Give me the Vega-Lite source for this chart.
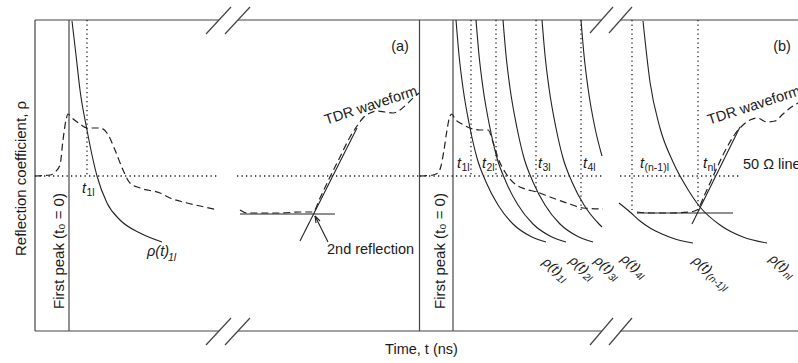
{
  "$schema": "https://vega.github.io/schema/vega-lite/v6.json",
  "width": 763,
  "height": 311,
  "autosize": "none",
  "padding": {"left": 35, "top": 20, "right": 0, "bottom": 32},
  "background": "white",
  "config": {
    "view": {"stroke": null},
    "text": {"font": "Liberation Sans", "color": "#1a1a1a"}
  },
  "datasets": {
    "segs": [
      {"k": "frame", "x": 35, "y": 156, "x2": 219, "y2": 156},
      {"k": "frame", "x": 238, "y": 156, "x2": 601.5, "y2": 156},
      {"k": "frame", "x": 620.5, "y": 156, "x2": 798, "y2": 156},
      {"k": "frame", "x": 35, "y": -155, "x2": 219, "y2": -155},
      {"k": "frame", "x": 238, "y": -155, "x2": 601.5, "y2": -155},
      {"k": "frame", "x": 620.5, "y": -155, "x2": 798, "y2": -155},
      {"k": "frame", "x": 35, "y": 156, "x2": 35, "y2": -155},
      {"k": "frame", "x": 419.5, "y": 156, "x2": 419.5, "y2": -155},
      {"k": "frame", "x": 206, "y": 142, "x2": 231, "y2": 169},
      {"k": "frame", "x": 225, "y": 142, "x2": 250, "y2": 169},
      {"k": "frame", "x": 206, "y": -169, "x2": 231, "y2": -142},
      {"k": "frame", "x": 225, "y": -169, "x2": 250, "y2": -142},
      {"k": "frame", "x": 590, "y": 143, "x2": 613, "y2": 169},
      {"k": "frame", "x": 609, "y": 143, "x2": 632, "y2": 169},
      {"k": "frame", "x": 590, "y": -169, "x2": 613, "y2": -142},
      {"k": "frame", "x": 609, "y": -169, "x2": 632, "y2": -142},
      {"k": "peak", "x": 69, "y": 156, "x2": 69, "y2": -155},
      {"k": "peak", "x": 453, "y": 156, "x2": 453, "y2": -155},
      {"k": "dot", "x": 35, "y": 0, "x2": 218, "y2": 0},
      {"k": "dot", "x": 237, "y": 0, "x2": 419, "y2": 0},
      {"k": "dot", "x": 420, "y": 0, "x2": 604, "y2": 0},
      {"k": "dot", "x": 620, "y": 0, "x2": 740, "y2": 0},
      {"k": "dot", "x": 87, "y": 156, "x2": 87, "y2": 0},
      {"k": "dot", "x": 471, "y": 156, "x2": 471, "y2": 0},
      {"k": "dot", "x": 496, "y": 156, "x2": 496, "y2": 0},
      {"k": "dot", "x": 536, "y": 156, "x2": 536, "y2": -16},
      {"k": "dot", "x": 581, "y": 156, "x2": 581, "y2": -34},
      {"k": "dot", "x": 632, "y": 156, "x2": 632, "y2": -34},
      {"k": "dot", "x": 698, "y": 156, "x2": 698, "y2": -34},
      {"k": "solid", "x": 240, "y": -38, "x2": 335, "y2": -38},
      {"k": "solid", "x": 300, "y": -65, "x2": 357, "y2": 48},
      {"k": "solid", "x": 637, "y": -37, "x2": 733, "y2": -37},
      {"k": "solid", "x": 692, "y": -48, "x2": 740, "y2": 49},
      {"k": "solid", "x": 328, "y": -66, "x2": 315, "y2": -40},
      {"k": "solid", "x": 315, "y": -40, "x2": 316, "y2": -47},
      {"k": "solid", "x": 315, "y": -40, "x2": 320, "y2": -45}
    ],
    "curves": [
      {"id": "a", "i": 0, "x": 72, "y": 155}, {"id": "a", "i": 1, "x": 76, "y": 121}, {"id": "a", "i": 2, "x": 80, "y": 86}, {"id": "a", "i": 3, "x": 87, "y": 46}, {"id": "a", "i": 4, "x": 92, "y": 21}, {"id": "a", "i": 5, "x": 97, "y": 0}, {"id": "a", "i": 6, "x": 107, "y": -27}, {"id": "a", "i": 7, "x": 120, "y": -44}, {"id": "a", "i": 8, "x": 140, "y": -57}, {"id": "a", "i": 9, "x": 162, "y": -66},
      {"id": "b1", "i": 0, "x": 456, "y": 156}, {"id": "b1", "i": 1, "x": 459, "y": 121}, {"id": "b1", "i": 2, "x": 463, "y": 88}, {"id": "b1", "i": 3, "x": 470, "y": 48}, {"id": "b1", "i": 4, "x": 477, "y": 18}, {"id": "b1", "i": 5, "x": 486, "y": -6}, {"id": "b1", "i": 6, "x": 498, "y": -29}, {"id": "b1", "i": 7, "x": 513, "y": -48}, {"id": "b1", "i": 8, "x": 530, "y": -60}, {"id": "b1", "i": 9, "x": 546, "y": -66},
      {"id": "b2", "i": 0, "x": 476, "y": 156}, {"id": "b2", "i": 1, "x": 479, "y": 121}, {"id": "b2", "i": 2, "x": 483, "y": 88}, {"id": "b2", "i": 3, "x": 490, "y": 48}, {"id": "b2", "i": 4, "x": 497, "y": 18}, {"id": "b2", "i": 5, "x": 506, "y": -6}, {"id": "b2", "i": 6, "x": 518, "y": -29}, {"id": "b2", "i": 7, "x": 533, "y": -48}, {"id": "b2", "i": 8, "x": 550, "y": -60}, {"id": "b2", "i": 9, "x": 566, "y": -66},
      {"id": "b3", "i": 0, "x": 503, "y": 156}, {"id": "b3", "i": 1, "x": 506, "y": 121}, {"id": "b3", "i": 2, "x": 510, "y": 88}, {"id": "b3", "i": 3, "x": 517, "y": 48}, {"id": "b3", "i": 4, "x": 524, "y": 18}, {"id": "b3", "i": 5, "x": 533, "y": -6}, {"id": "b3", "i": 6, "x": 545, "y": -29}, {"id": "b3", "i": 7, "x": 560, "y": -48}, {"id": "b3", "i": 8, "x": 577, "y": -60}, {"id": "b3", "i": 9, "x": 593, "y": -66},
      {"id": "b4", "i": 0, "x": 542, "y": 156}, {"id": "b4", "i": 1, "x": 545, "y": 121}, {"id": "b4", "i": 2, "x": 549, "y": 88}, {"id": "b4", "i": 3, "x": 556, "y": 48}, {"id": "b4", "i": 4, "x": 563, "y": 18}, {"id": "b4", "i": 5, "x": 572, "y": -6}, {"id": "b4", "i": 6, "x": 584, "y": -29}, {"id": "b4", "i": 7, "x": 599, "y": -48}, {"id": "b4", "i": 8, "x": 602, "y": -51},
      {"id": "b5", "i": 0, "x": 581, "y": 156}, {"id": "b5", "i": 1, "x": 584, "y": 121}, {"id": "b5", "i": 2, "x": 588, "y": 88}, {"id": "b5", "i": 3, "x": 595, "y": 48}, {"id": "b5", "i": 4, "x": 602, "y": 20},
      {"id": "b6", "i": 0, "x": 619, "y": -27}, {"id": "b6", "i": 1, "x": 630, "y": -36}, {"id": "b6", "i": 2, "x": 640, "y": -45}, {"id": "b6", "i": 3, "x": 650, "y": -52}, {"id": "b6", "i": 4, "x": 662, "y": -58}, {"id": "b6", "i": 5, "x": 675, "y": -63}, {"id": "b6", "i": 6, "x": 693, "y": -67},
      {"id": "b7", "i": 0, "x": 643, "y": 155}, {"id": "b7", "i": 1, "x": 650, "y": 94}, {"id": "b7", "i": 2, "x": 660, "y": 48}, {"id": "b7", "i": 3, "x": 673, "y": 14}, {"id": "b7", "i": 4, "x": 687, "y": -12}, {"id": "b7", "i": 5, "x": 700, "y": -31}, {"id": "b7", "i": 6, "x": 720, "y": -49}, {"id": "b7", "i": 7, "x": 743, "y": -61}, {"id": "b7", "i": 8, "x": 767, "y": -67}
    ],
    "tdr": [
      {"id": "a1", "i": 0, "x": 35, "y": 0}, {"id": "a1", "i": 1, "x": 50, "y": 1}, {"id": "a1", "i": 2, "x": 55, "y": 4}, {"id": "a1", "i": 3, "x": 60, "y": 11}, {"id": "a1", "i": 4, "x": 63, "y": 36}, {"id": "a1", "i": 5, "x": 66, "y": 56}, {"id": "a1", "i": 6, "x": 68, "y": 62}, {"id": "a1", "i": 7, "x": 72, "y": 58}, {"id": "a1", "i": 8, "x": 80, "y": 52}, {"id": "a1", "i": 9, "x": 87, "y": 48}, {"id": "a1", "i": 10, "x": 100, "y": 48}, {"id": "a1", "i": 11, "x": 107, "y": 43}, {"id": "a1", "i": 12, "x": 115, "y": 26}, {"id": "a1", "i": 13, "x": 123, "y": 6}, {"id": "a1", "i": 14, "x": 130, "y": -7}, {"id": "a1", "i": 15, "x": 140, "y": -12}, {"id": "a1", "i": 16, "x": 160, "y": -17}, {"id": "a1", "i": 17, "x": 170, "y": -22}, {"id": "a1", "i": 18, "x": 187, "y": -27}, {"id": "a1", "i": 19, "x": 200, "y": -30}, {"id": "a1", "i": 20, "x": 218, "y": -34},
      {"id": "a2", "i": 0, "x": 240, "y": -34}, {"id": "a2", "i": 1, "x": 247, "y": -37}, {"id": "a2", "i": 2, "x": 260, "y": -37}, {"id": "a2", "i": 3, "x": 280, "y": -37}, {"id": "a2", "i": 4, "x": 300, "y": -36}, {"id": "a2", "i": 5, "x": 313, "y": -36}, {"id": "a2", "i": 6, "x": 320, "y": -22}, {"id": "a2", "i": 7, "x": 330, "y": -1}, {"id": "a2", "i": 8, "x": 340, "y": 19}, {"id": "a2", "i": 9, "x": 350, "y": 39}, {"id": "a2", "i": 10, "x": 357, "y": 50}, {"id": "a2", "i": 11, "x": 363, "y": 58}, {"id": "a2", "i": 12, "x": 370, "y": 63}, {"id": "a2", "i": 13, "x": 377, "y": 65}, {"id": "a2", "i": 14, "x": 385, "y": 64}, {"id": "a2", "i": 15, "x": 393, "y": 63}, {"id": "a2", "i": 16, "x": 400, "y": 66}, {"id": "a2", "i": 17, "x": 407, "y": 72}, {"id": "a2", "i": 18, "x": 413, "y": 78}, {"id": "a2", "i": 19, "x": 419, "y": 83},
      {"id": "b1", "i": 0, "x": 420, "y": 0}, {"id": "b1", "i": 1, "x": 433, "y": 1}, {"id": "b1", "i": 2, "x": 438, "y": 3}, {"id": "b1", "i": 3, "x": 441, "y": 10}, {"id": "b1", "i": 4, "x": 444, "y": 26}, {"id": "b1", "i": 5, "x": 447, "y": 46}, {"id": "b1", "i": 6, "x": 450, "y": 60}, {"id": "b1", "i": 7, "x": 452, "y": 62}, {"id": "b1", "i": 8, "x": 455, "y": 57}, {"id": "b1", "i": 9, "x": 462, "y": 52}, {"id": "b1", "i": 10, "x": 470, "y": 48}, {"id": "b1", "i": 11, "x": 480, "y": 46}, {"id": "b1", "i": 12, "x": 488, "y": 46}, {"id": "b1", "i": 13, "x": 493, "y": 34}, {"id": "b1", "i": 14, "x": 498, "y": 18}, {"id": "b1", "i": 15, "x": 505, "y": 4}, {"id": "b1", "i": 16, "x": 515, "y": -8}, {"id": "b1", "i": 17, "x": 525, "y": -13}, {"id": "b1", "i": 18, "x": 537, "y": -16}, {"id": "b1", "i": 19, "x": 550, "y": -21}, {"id": "b1", "i": 20, "x": 567, "y": -27}, {"id": "b1", "i": 21, "x": 583, "y": -32}, {"id": "b1", "i": 22, "x": 603, "y": -33},
      {"id": "b2", "i": 0, "x": 637, "y": -36}, {"id": "b2", "i": 1, "x": 650, "y": -37}, {"id": "b2", "i": 2, "x": 670, "y": -37}, {"id": "b2", "i": 3, "x": 690, "y": -36}, {"id": "b2", "i": 4, "x": 697, "y": -34}, {"id": "b2", "i": 5, "x": 705, "y": -18}, {"id": "b2", "i": 6, "x": 715, "y": 4}, {"id": "b2", "i": 7, "x": 725, "y": 25}, {"id": "b2", "i": 8, "x": 735, "y": 42}, {"id": "b2", "i": 9, "x": 742, "y": 50}, {"id": "b2", "i": 10, "x": 750, "y": 56}, {"id": "b2", "i": 11, "x": 757, "y": 58}, {"id": "b2", "i": 12, "x": 767, "y": 54}, {"id": "b2", "i": 13, "x": 775, "y": 55}, {"id": "b2", "i": 14, "x": 783, "y": 62}, {"id": "b2", "i": 15, "x": 790, "y": 68}, {"id": "b2", "i": 16, "x": 798, "y": 73}
    ],
    "txt": [
      {"k": "plain", "s": "(a)", "x": 400, "y": 129},
      {"k": "plain", "s": "(b)", "x": 782, "y": 129},
      {"k": "left", "s": "2nd reflection", "x": 327, "y": -74},
      {"k": "left", "s": "50 Ω line", "x": 743, "y": 11},
      {"k": "tdr", "s": "TDR waveform", "x": 371, "y": 70},
      {"k": "tdr", "s": "TDR waveform", "x": 754, "y": 70},
      {"k": "peak", "s": "First peak (t₀ = 0)", "x": 59, "y": -75},
      {"k": "peak", "s": "First peak (t₀ = 0)", "x": 440, "y": -75},
      {"k": "tmain", "s": "t", "x": 82, "y": -17},
      {"k": "tmain", "s": "t", "x": 457, "y": 8},
      {"k": "tmain", "s": "t", "x": 482, "y": 8},
      {"k": "tmain", "s": "t", "x": 538, "y": 8},
      {"k": "tmain", "s": "t", "x": 583, "y": 8},
      {"k": "tmain", "s": "t", "x": 640, "y": 8},
      {"k": "tmain", "s": "t", "x": 703, "y": 8},
      {"k": "tsub", "s": "1l", "x": 86.5, "y": -20},
      {"k": "tsub", "s": "1l", "x": 461.5, "y": 5},
      {"k": "tsub", "s": "2l", "x": 486.5, "y": 5},
      {"k": "tsub", "s": "3l", "x": 542.5, "y": 5},
      {"k": "tsub", "s": "4l", "x": 587.5, "y": 5},
      {"k": "tsub", "s": "(n-1)l", "x": 644.5, "y": 5},
      {"k": "tsub", "s": "nl", "x": 707.5, "y": 5},
      {"k": "rmain", "s": "ρ(t)", "x": 147, "y": -80},
      {"k": "rsub", "s": "1l", "x": 168, "y": -85},
      {"k": "rrot", "s": "ρ(t)", "x": 544.3, "y": -84.3},
      {"k": "rrot", "s": "ρ(t)", "x": 571, "y": -82.7},
      {"k": "rrot", "s": "ρ(t)", "x": 596, "y": -82.7},
      {"k": "rrot", "s": "ρ(t)", "x": 622.7, "y": -81},
      {"k": "rrot", "s": "ρ(t)", "x": 694.3, "y": -82.7},
      {"k": "rrot", "s": "ρ(t)", "x": 771, "y": -81},
      {"k": "rrotsub", "s": "1l", "x": 557.8, "y": -100.8},
      {"k": "rrotsub", "s": "2l", "x": 584.5, "y": -99.2},
      {"k": "rrotsub", "s": "3l", "x": 609.5, "y": -99.2},
      {"k": "rrotsub", "s": "4l", "x": 636.2, "y": -97.5},
      {"k": "rrotsub", "s": "(n-1)l", "x": 707.8, "y": -99.2},
      {"k": "rrotsub", "s": "nl", "x": 784.5, "y": -97.5}
    ]
  },
  "encoding": {
    "x": {
      "field": "x", "type": "quantitative",
      "scale": {"domain": [35, 798], "nice": false, "zero": false},
      "axis": {"title": "Time, t (ns)", "labels": false, "ticks": false, "domain": false, "grid": false, "titleFont": "Liberation Sans", "titleFontWeight": "normal", "titleColor": "#1a1a1a", "titleFontSize": 14.5, "titlePadding": 11, "titleX": 386}
    },
    "y": {
      "field": "y", "type": "quantitative",
      "scale": {"domain": [-155, 156], "nice": false, "zero": false},
      "axis": {"title": "Reflection coefficient, ρ", "labels": false, "ticks": false, "domain": false, "grid": false, "titleFont": "Liberation Sans", "titleFontWeight": "normal", "titleColor": "#1a1a1a", "titleFontSize": 15, "titlePadding": 7, "titleY": 158}
    }
  },
  "layer": [
    {
      "data": {"name": "segs"},
      "transform": [{"filter": "datum.k === 'frame'"}],
      "mark": {"type": "rule", "color": "#444", "strokeWidth": 1.2},
      "encoding": {"x2": {"field": "x2"}, "y2": {"field": "y2"}}
    },
    {
      "data": {"name": "segs"},
      "transform": [{"filter": "datum.k === 'peak'"}],
      "mark": {"type": "rule", "color": "#555", "strokeWidth": 1.3},
      "encoding": {"x2": {"field": "x2"}, "y2": {"field": "y2"}}
    },
    {
      "data": {"name": "segs"},
      "transform": [{"filter": "datum.k === 'dot'"}],
      "mark": {"type": "rule", "color": "#222", "strokeWidth": 1.3, "strokeDash": [1.3, 3.2]},
      "encoding": {"x2": {"field": "x2"}, "y2": {"field": "y2"}}
    },
    {
      "data": {"name": "segs"},
      "transform": [{"filter": "datum.k === 'solid'"}],
      "mark": {"type": "rule", "color": "#222", "strokeWidth": 1.1},
      "encoding": {"x2": {"field": "x2"}, "y2": {"field": "y2"}}
    },
    {
      "data": {"name": "curves"},
      "mark": {"type": "line", "color": "#222", "strokeWidth": 1.1, "interpolate": "monotone"},
      "encoding": {"detail": {"field": "id"}, "order": {"field": "i"}}
    },
    {
      "data": {"name": "tdr"},
      "mark": {"type": "line", "color": "#222", "strokeWidth": 1.2, "strokeDash": [7, 4], "interpolate": "monotone"},
      "encoding": {"detail": {"field": "id"}, "order": {"field": "i"}}
    },
    {
      "data": {"name": "txt"},
      "transform": [{"filter": "datum.k === 'plain'"}],
      "mark": {"type": "text", "fontSize": 14.5, "align": "center", "baseline": "middle"},
      "encoding": {"text": {"field": "s"}}
    },
    {
      "data": {"name": "txt"},
      "transform": [{"filter": "datum.k === 'left'"}],
      "mark": {"type": "text", "fontSize": 14.5, "align": "left", "baseline": "middle"},
      "encoding": {"text": {"field": "s"}}
    },
    {
      "data": {"name": "txt"},
      "transform": [{"filter": "datum.k === 'tdr'"}],
      "mark": {"type": "text", "fontSize": 14.5, "align": "center", "baseline": "middle", "angle": -18},
      "encoding": {"text": {"field": "s"}}
    },
    {
      "data": {"name": "txt"},
      "transform": [{"filter": "datum.k === 'peak'"}],
      "mark": {"type": "text", "fontSize": 15, "align": "center", "baseline": "middle", "angle": -90},
      "encoding": {"text": {"field": "s"}}
    },
    {
      "data": {"name": "txt"},
      "transform": [{"filter": "datum.k === 'tmain'"}],
      "mark": {"type": "text", "fontSize": 14.5, "fontStyle": "italic", "align": "left", "baseline": "alphabetic"},
      "encoding": {"text": {"field": "s"}}
    },
    {
      "data": {"name": "txt"},
      "transform": [{"filter": "datum.k === 'tsub'"}],
      "mark": {"type": "text", "fontSize": 10.5, "align": "left", "baseline": "alphabetic"},
      "encoding": {"text": {"field": "s"}}
    },
    {
      "data": {"name": "txt"},
      "transform": [{"filter": "datum.k === 'rmain'"}],
      "mark": {"type": "text", "fontSize": 14.5, "fontStyle": "italic", "align": "left", "baseline": "alphabetic"},
      "encoding": {"text": {"field": "s"}}
    },
    {
      "data": {"name": "txt"},
      "transform": [{"filter": "datum.k === 'rsub'"}],
      "mark": {"type": "text", "fontSize": 10.5, "fontStyle": "italic", "align": "left", "baseline": "alphabetic"},
      "encoding": {"text": {"field": "s"}}
    },
    {
      "data": {"name": "txt"},
      "transform": [{"filter": "datum.k === 'rrot'"}],
      "mark": {"type": "text", "fontSize": 13.5, "fontStyle": "italic", "align": "left", "baseline": "middle", "angle": 40},
      "encoding": {"text": {"field": "s"}}
    },
    {
      "data": {"name": "txt"},
      "transform": [{"filter": "datum.k === 'rrotsub'"}],
      "mark": {"type": "text", "fontSize": 10, "fontStyle": "italic", "align": "left", "baseline": "middle", "angle": 40},
      "encoding": {"text": {"field": "s"}}
    }
  ]
}
